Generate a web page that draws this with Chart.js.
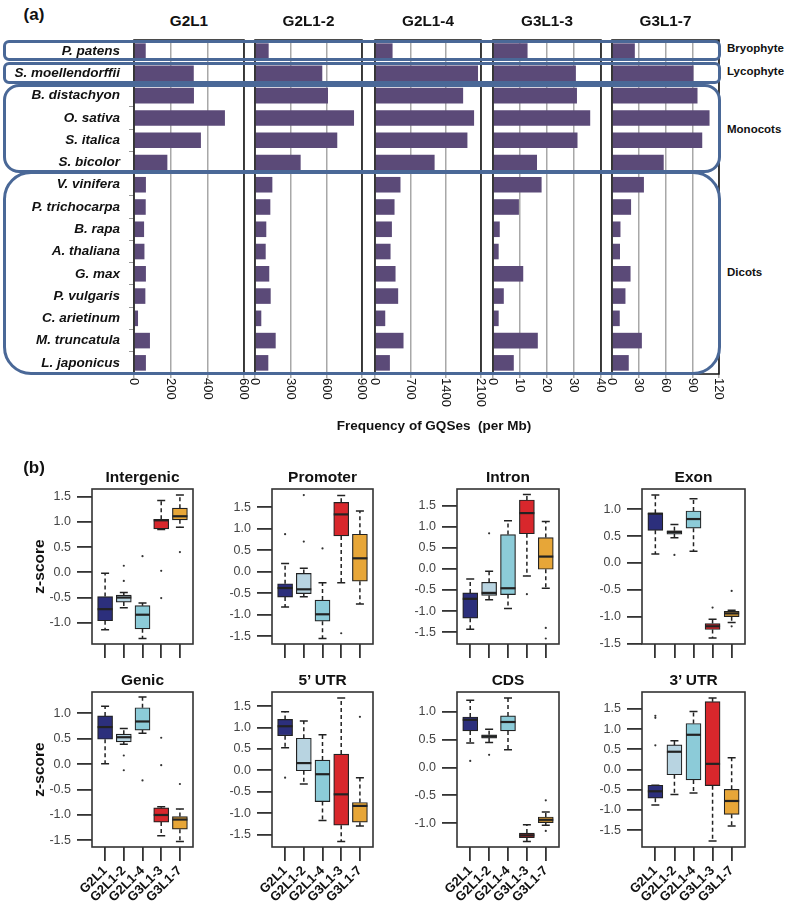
<!DOCTYPE html>
<html lang="en">
<head>
<meta charset="UTF-8">
<title>GQS frequency and z-scores</title>
<script src="https://cdn.jsdelivr.net/npm/chart.js"></script>
<style>
  body { margin: 0; background: #fff; font-family: "Liberation Sans", Arial, Helvetica, sans-serif; }
  #page { position: relative; width: 787px; height: 901px; overflow: hidden; background: #fff; }
  #page canvas { position: absolute; }
  .lbl { position: absolute; white-space: pre; color: #111; font-weight: bold; line-height: 1; }
  .grp { position: absolute; border: 3px solid #4a6897; box-sizing: border-box; pointer-events: none; z-index: 5; }
</style>
</head>
<body>
<div id="page"></div>
<script>
// ---- (a) frequency of GQSes per Mb ----
const species = ['P. patens', 'S. moellendorffii', 'B. distachyon', 'O. sativa', 'S. italica', 'S. bicolor',
  'V. vinifera', 'P. trichocarpa', 'B. rapa', 'A. thaliana', 'G. max', 'P. vulgaris', 'C. arietinum',
  'M. truncatula', 'L. japonicus'];
const panelNames = ['G2L1', 'G2L1-2', 'G2L1-4', 'G3L1-3', 'G3L1-7'];
const g2l1   = [64, 326, 327, 496, 365, 182, 65, 64, 55, 57, 65, 62, 22, 87, 65];
const g2l1_2 = [115, 566, 614, 833, 692, 384, 146, 129, 95, 90, 120, 132, 53, 174, 112];
const g2l1_4 = [348, 2041, 1746, 1963, 1831, 1181, 505, 387, 335, 308, 407, 459, 203, 565, 295];
const g3l1_3 = [12.8, 30.7, 31.1, 36.0, 31.3, 16.3, 18.0, 9.6, 2.5, 2.1, 11.2, 4.0, 2.1, 16.6, 7.7];
const g3l1_7 = [25.6, 91.4, 95.9, 109.4, 101.2, 58.0, 35.8, 21.4, 9.5, 9.0, 20.8, 15.1, 8.7, 33.5, 18.8];
const panelMax  = [600, 900, 2100, 40, 120];
const panelStep = [200, 300, 700, 10, 30];

// ---- (b) z-scores, each row: [low whisker, Q1, median, Q3, high whisker] ----
const groups = ['G2L1', 'G2L1-2', 'G2L1-4', 'G3L1-3', 'G3L1-7'];
const boxColors = ['#2c2f7c', '#b8d4e1', '#8ccbd8', '#d8272c', '#e7a638'];

const intergenic = [[-1.14, -0.96, -0.73, -0.48, -0.02], [-0.70, -0.59, -0.50, -0.45, -0.40],
  [-1.31, -1.12, -0.84, -0.66, -0.61], [0.85, 0.86, 1.03, 1.05, 1.42], [0.89, 1.04, 1.11, 1.27, 1.53]];
const intergenicOut = [[], [0.13, -0.17], [0.32], [0.03, -0.51], [0.40]];

const promoter = [[-0.82, -0.59, -0.38, -0.28, 0.19], [-0.58, -0.51, -0.41, -0.04, 0.08],
  [-1.55, -1.15, -0.99, -0.66, -0.26], [-0.26, 0.83, 1.33, 1.61, 1.77], [-0.75, -0.22, 0.31, 0.87, 1.41]];
const promoterOut = [[0.87], [1.78, 0.70], [0.54], [-1.43], []];

const intron = [[-1.43, -1.17, -0.71, -0.57, -0.24], [-0.73, -0.63, -0.57, -0.32, -0.06],
  [-0.94, -0.61, -0.46, 0.81, 1.14], [-0.17, 0.83, 1.32, 1.63, 1.76], [-0.46, -0.01, 0.29, 0.74, 1.12]];
const intronOut = [[], [0.84], [], [-0.60], [-1.40, -1.65]];

const exon = [[0.17, 0.61, 0.92, 0.93, 1.27], [0.47, 0.54, 0.58, 0.60, 0.72],
  [0.22, 0.65, 0.82, 0.97, 1.20], [-1.40, -1.24, -1.18, -1.13, -1.05], [-1.11, -1.00, -0.94, -0.90, -0.88]];
const exonOut = [[], [0.15], [], [-0.83], [-0.52, -1.18]];

const genic = [[0.01, 0.49, 0.73, 0.95, 1.14], [0.39, 0.44, 0.53, 0.59, 0.70],
  [0.61, 0.67, 0.84, 1.11, 1.32], [-1.41, -1.14, -1.00, -0.86, -0.84], [-1.52, -1.28, -1.09, -1.03, -0.88]];
const genicOut = [[], [0.17, -0.12], [-0.32], [0.52, -0.02], [-0.39]];

const utr5 = [[0.53, 0.81, 1.03, 1.19, 1.37], [-0.32, -0.01, 0.17, 0.75, 1.15],
  [-1.17, -0.73, -0.09, 0.24, 0.83], [-1.66, -1.28, -0.56, 0.38, 1.69], [-1.30, -1.21, -0.83, -0.75, -0.17]];
const utr5Out = [[-0.17], [], [], [], [1.25]];

const cds = [[0.44, 0.66, 0.86, 0.91, 1.21], [0.45, 0.53, 0.56, 0.59, 0.69],
  [0.32, 0.66, 0.82, 0.93, 1.25], [-1.33, -1.26, -1.22, -1.18, -1.03], [-1.04, -0.99, -0.94, -0.89, -0.80]];
const cdsOut = [[0.12], [0.23], [], [], [-0.59, -1.14]];

const utr3 = [[-0.88, -0.71, -0.54, -0.39, -0.39], [-0.62, -0.13, 0.44, 0.61, 0.71],
  [-0.58, -0.26, 0.86, 1.14, 1.44], [-1.77, -0.40, 0.14, 1.68, 1.77], [-1.40, -1.11, -0.78, -0.49, 0.29]];
const utr3Out = [[1.33, 1.28, 0.60], [], [], [], []];

const regionTitles = ['Intergenic', 'Promoter', 'Intron', 'Exon', 'Genic', '5\u2019 UTR', 'CDS', '3\u2019 UTR'];
const regionStats = [intergenic, promoter, intron, exon, genic, utr5, cds, utr3];
const regionOut = [intergenicOut, promoterOut, intronOut, exonOut, genicOut, utr5Out, cdsOut, utr3Out];
const regionMin = [-1.42, -1.68, -1.78, -1.51, -1.63, -1.79, -1.43, -1.92];
const regionMax = [1.65, 1.92, 1.89, 1.38, 1.42, 1.83, 1.36, 1.92];

const FONT = '"Liberation Sans", Arial, Helvetica, sans-serif';
Chart.defaults.font.family = FONT;
const page = document.getElementById('page');

function makeCanvas(left, top, w, h) {
  const c = document.createElement('canvas');
  c.width = w; c.height = h;
  c.style.left = left + 'px'; c.style.top = top + 'px';
  c.style.width = w + 'px'; c.style.height = h + 'px';
  page.appendChild(c);
  return c;
}

function putText(txt, x, y, size, align) {
  const d = document.createElement('div');
  d.className = 'lbl';
  d.textContent = txt;
  d.style.left = x + 'px';
  d.style.top = y + 'px';
  d.style.fontSize = size + 'px';
  d.style.transform = align === 'left' ? 'translate(0,-50%)' : 'translate(-50%,-50%)';
  page.appendChild(d);
}

function groupBox(left, top, w, h, r) {
  const d = document.createElement('div');
  d.className = 'grp';
  Object.assign(d.style, { left: left + 'px', top: top + 'px', width: w + 'px', height: h + 'px', borderRadius: r + 'px' });
  page.appendChild(d);
}

// fix an axis size and drop the label overhang padding so the plot area lands where we want it
function fixSize(prop, size) {
  return s => {
    s[prop] = size;
    s.paddingTop = 0; s.paddingBottom = 0; s.paddingLeft = 0; s.paddingRight = 0;
  };
}

// black frame around a plot area
const panelFrame = {
  id: 'panelFrame',
  afterDatasetsDraw(chart, args, opts) {
    const a = chart.chartArea, ctx = chart.ctx;
    ctx.save();
    ctx.strokeStyle = opts.color || '#111';
    ctx.lineWidth = opts.width || 1.5;
    ctx.strokeRect(a.left, a.top, a.right - a.left, a.bottom - a.top);
    ctx.restore();
  }
};

// x tick labels turned 90 degrees clockwise (part a)
const verticalTickLabels = {
  id: 'verticalTickLabels',
  afterDraw(chart) {
    const s = chart.scales.x, ctx = chart.ctx;
    ctx.save();
    ctx.font = '13px ' + FONT;
    ctx.fillStyle = '#111';
    ctx.textAlign = 'left';
    ctx.textBaseline = 'middle';
    s.ticks.forEach((t, k) => {
      ctx.save();
      ctx.translate(s.getPixelForTick(k), s.top + 4);
      ctx.rotate(Math.PI / 2);
      ctx.fillText(String(t.value), 0, 0);
      ctx.restore();
    });
    ctx.restore();
  }
};

// whiskers, caps and medians (part b)
const boxWhiskers = {
  id: 'boxWhiskers',
  afterDatasetsDraw(chart, args, opts) {
    const xs = chart.scales.x, ys = chart.scales.y, ctx = chart.ctx;
    const stats = opts.stats;
    ctx.save();
    ctx.strokeStyle = '#222';
    for (let k = 0; k < stats.length; k++) {
      const x = xs.getPixelForValue(k + 1);
      const [lo, q1, med, q3, hi] = stats[k].map(v => ys.getPixelForValue(v));
      ctx.lineWidth = 1.5;
      ctx.setLineDash([4, 3]);
      ctx.beginPath();
      ctx.moveTo(x, q3); ctx.lineTo(x, hi);
      ctx.moveTo(x, q1); ctx.lineTo(x, lo);
      ctx.stroke();
      ctx.setLineDash([]);
      ctx.beginPath();
      ctx.moveTo(x - 4, hi); ctx.lineTo(x + 4, hi);
      ctx.moveTo(x - 4, lo); ctx.lineTo(x + 4, lo);
      ctx.stroke();
      ctx.lineWidth = 2.2;
      ctx.beginPath();
      ctx.moveTo(x - 7.5, med); ctx.lineTo(x + 7.5, med);
      ctx.stroke();
    }
    ctx.restore();
  }
};

// ---- build part (a) ----
const aLeft = [134, 255, 375, 493, 612];
const aRight = [244, 362, 481, 601, 719];
const panelValues = [g2l1, g2l1_2, g2l1_4, g3l1_3, g3l1_7];

panelValues.forEach((vals, i) => {
  const first = i === 0;
  const cx = first ? 0 : aLeft[i] - 8;
  const w = aRight[i] - cx + 8;
  const canvas = makeCanvas(cx, 30, w, 390);
  new Chart(canvas, {
    type: 'bar',
    data: {
      labels: species,
      datasets: [{
        data: vals,
        backgroundColor: '#5b4a78',
        borderWidth: 0,
        categoryPercentage: 0.7,
        barPercentage: 1
      }]
    },
    options: {
      indexAxis: 'y',
      responsive: false,
      animation: false,
      layout: { padding: { left: first ? 0 : 8, right: 8, top: 10, bottom: 0 } },
      plugins: { legend: { display: false }, tooltip: { enabled: false }, panelFrame: { color: '#111', width: 1.5 } },
      scales: {
        x: {
          type: 'linear', min: 0, max: panelMax[i],
          ticks: { stepSize: panelStep[i], display: false },
          grid: { color: '#a8a8a8', lineWidth: 1.5, tickLength: 4 },
          border: { display: false },
          afterFit: fixSize('height', 46)
        },
        y: {
          display: first,
          ticks: { autoSkip: false, padding: 9, color: '#111', font: { size: 13.5, weight: 'bold', style: 'italic' } },
          grid: { drawOnChartArea: false, tickLength: 5, color: '#999' },
          border: { display: false },
          afterFit: fixSize('width', first ? aLeft[0] : 0)
        }
      }
    },
    plugins: [panelFrame, verticalTickLabels]
  });
  putText(panelNames[i], (aLeft[i] + aRight[i]) / 2, 21, 15.3);
});

groupBox(3, 40, 718, 21, 6);
groupBox(3, 62, 718, 22, 6);
groupBox(3, 84, 718, 89, 16);
groupBox(3, 171, 718, 204, 28);
putText('Bryophyte', 727, 49, 11.5, 'left');
putText('Lycophyte', 727, 72, 11.5, 'left');
putText('Monocots', 727, 130, 11.5, 'left');
putText('Dicots', 727, 273, 11.5, 'left');
putText('(a)', 34, 14, 17);
putText('Frequency of GQSes  (per Mb)', 434, 426, 13.5);

// ---- build part (b) ----
const bLeft = [92, 272, 457, 642];
const bWidth = [101, 101, 102, 103];
const bTop = [489, 692];
const bHeight = 155;

regionStats.forEach((stats, r) => {
  const row = r < 4 ? 0 : 1;
  const col = r % 4;
  const xh = row === 0 ? 20 : 56;
  const fl = bLeft[col], fw = bWidth[col];
  const canvas = makeCanvas(fl - 70, bTop[row] - 4, 70 + fw + 8, 4 + bHeight + xh);
  const outPts = [];
  regionOut[r].forEach((list, k) => list.forEach(v => outPts.push({ x: k + 1, y: v })));
  new Chart(canvas, {
    type: 'bar',
    data: {
      datasets: [{
        type: 'bar',
        data: stats.map((s, k) => ({ x: k + 1, y: [s[1], s[3]] })),
        backgroundColor: boxColors,
        borderColor: '#222',
        borderWidth: 1.2,
        borderSkipped: false,
        barThickness: 15
      }, {
        type: 'scatter',
        data: outPts,
        pointRadius: 1.1,
        pointBackgroundColor: '#333',
        pointBorderWidth: 0
      }]
    },
    options: {
      responsive: false,
      animation: false,
      layout: { padding: { left: 0, right: 8, top: 4, bottom: 0 } },
      plugins: {
        legend: { display: false }, tooltip: { enabled: false },
        panelFrame: { color: '#333', width: 1.6 },
        boxWhiskers: { stats: stats }
      },
      scales: {
        x: {
          type: 'linear', min: 0.3, max: 5.7, offset: false,
          afterBuildTicks: s => { s.ticks = groups.map((g, k) => ({ value: k + 1 })); },
          ticks: {
            autoSkip: false,
            minRotation: row === 1 ? 45 : 0, maxRotation: row === 1 ? 45 : 0,
            padding: 2, color: '#111', font: { size: 13, weight: 'bold' },
            callback: v => (row === 1 ? groups[v - 1] : '')
          },
          grid: { drawOnChartArea: false, offset: false, tickLength: 14, color: '#333', lineWidth: 1.8 },
          border: { display: false },
          afterFit: fixSize('height', xh)
        },
        y: {
          min: regionMin[r], max: regionMax[r],
          ticks: { stepSize: 0.5, includeBounds: false, padding: 6, color: '#444', font: { size: 12.5 }, callback: v => v.toFixed(1) },
          grid: { drawOnChartArea: false, tickLength: 15, color: '#333', lineWidth: 1.8 },
          border: { display: false },
          title: { display: col === 0, text: 'z-score', color: '#111', font: { size: 15.5, weight: 'bold' }, padding: { top: 8, bottom: 0 } },
          afterFit: fixSize('width', 70)
        }
      }
    },
    plugins: [panelFrame, boxWhiskers]
  });
  putText(regionTitles[r], fl + fw / 2, row === 0 ? 477 : 680, 15.5);
});
putText('(b)', 34, 467, 17);
</script>
</body>
</html>
